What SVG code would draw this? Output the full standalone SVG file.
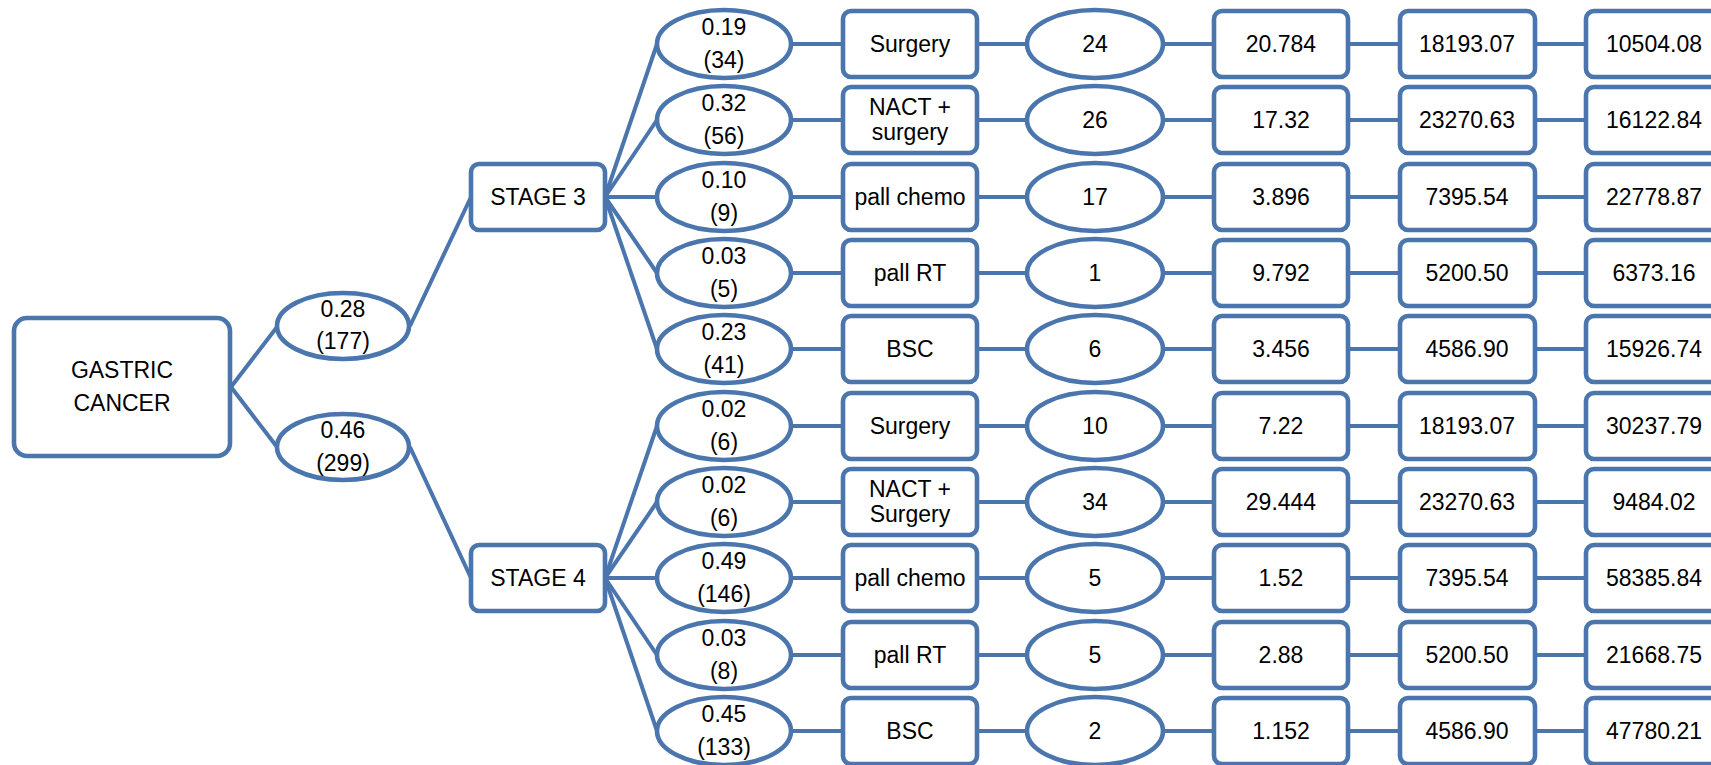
<svg xmlns="http://www.w3.org/2000/svg" width="1711" height="765" viewBox="0 0 1711 765">
<style>
.s{fill:#fff;stroke:#4a75ad;stroke-width:4.6}
.c line{stroke:#4a75ad;stroke-width:4}
text{font-family:"Liberation Sans",Arial,sans-serif;font-size:23px;fill:#000;text-anchor:middle}
</style>
<rect width="1711" height="765" fill="#fff"/>
<g class="c" id="connectors">
<line x1="231" y1="387" x2="277" y2="327"/>
<line x1="231" y1="387" x2="277" y2="447"/>
<line x1="410" y1="326" x2="471" y2="197"/>
<line x1="410" y1="447" x2="471" y2="578"/>
<line x1="605" y1="197" x2="657" y2="44"/>
<line x1="605" y1="197" x2="657" y2="120"/>
<line x1="605" y1="197" x2="657" y2="197"/>
<line x1="605" y1="197" x2="657" y2="273"/>
<line x1="605" y1="197" x2="657" y2="349"/>
<line x1="605" y1="578" x2="657" y2="426"/>
<line x1="605" y1="578" x2="657" y2="502"/>
<line x1="605" y1="578" x2="657" y2="578"/>
<line x1="605" y1="578" x2="657" y2="655"/>
<line x1="605" y1="578" x2="657" y2="731"/>
<g id="rowlines">
<line x1="790" y1="44" x2="1590" y2="44"/>
<line x1="790" y1="120" x2="1590" y2="120"/>
<line x1="790" y1="197" x2="1590" y2="197"/>
<line x1="790" y1="273" x2="1590" y2="273"/>
<line x1="790" y1="349" x2="1590" y2="349"/>
<line x1="790" y1="426" x2="1590" y2="426"/>
<line x1="790" y1="502" x2="1590" y2="502"/>
<line x1="790" y1="578" x2="1590" y2="578"/>
<line x1="790" y1="655" x2="1590" y2="655"/>
<line x1="790" y1="731" x2="1590" y2="731"/>
</g>
</g>
<g id="root"><rect class="s" x="14" y="318" width="216" height="138" rx="13"/><text x="122" y="378">GASTRIC</text><text x="122" y="411">CANCER</text></g>
<g id="p-s3"><ellipse class="s" cx="343" cy="326" rx="66" ry="33"/><text x="343" y="317">0.28</text><text x="343" y="349">(177)</text></g>
<g id="p-s4"><ellipse class="s" cx="343" cy="447" rx="66" ry="33"/><text x="343" y="438">0.46</text><text x="343" y="471">(299)</text></g>
<g id="stage3"><rect class="s" x="471" y="164" width="134" height="66" rx="8"/><text x="538" y="205">STAGE 3</text></g>
<g id="stage4"><rect class="s" x="471" y="545" width="134" height="66" rx="8"/><text x="538" y="586">STAGE 4</text></g>

<g id="row1"><g id="r1-p"><ellipse class="s" cx="724" cy="44" rx="67" ry="34"/><text x="724" y="35">0.19</text><text x="724" y="68">(34)</text></g>
<g id="r1-t"><rect class="s" x="843" y="11" width="134" height="66" rx="8"/><text x="910" y="52">Surgery</text></g>
<g id="r1-n"><ellipse class="s" cx="1095" cy="44" rx="68" ry="34"/><text x="1095" y="52">24</text></g>
<g id="r1-a"><rect class="s" x="1214" y="11" width="134" height="66" rx="8"/><text x="1281" y="52">20.784</text></g>
<g id="r1-b"><rect class="s" x="1400" y="11" width="135" height="66" rx="8"/><text x="1467" y="52">18193.07</text></g>
<g id="r1-c"><rect class="s" x="1586" y="11" width="135" height="66" rx="8"/><text x="1654" y="52">10504.08</text></g></g>

<g id="row2"><g id="r2-p"><ellipse class="s" cx="724" cy="120" rx="67" ry="34"/><text x="724" y="111">0.32</text><text x="724" y="144">(56)</text></g>
<g id="r2-t"><rect class="s" x="843" y="87" width="134" height="66" rx="8"/><text x="910" y="115">NACT +</text><text x="910" y="140">surgery</text></g>
<g id="r2-n"><ellipse class="s" cx="1095" cy="120" rx="68" ry="34"/><text x="1095" y="128">26</text></g>
<g id="r2-a"><rect class="s" x="1214" y="87" width="134" height="66" rx="8"/><text x="1281" y="128">17.32</text></g>
<g id="r2-b"><rect class="s" x="1400" y="87" width="135" height="66" rx="8"/><text x="1467" y="128">23270.63</text></g>
<g id="r2-c"><rect class="s" x="1586" y="87" width="135" height="66" rx="8"/><text x="1654" y="128">16122.84</text></g></g>

<g id="row3"><g id="r3-p"><ellipse class="s" cx="724" cy="197" rx="67" ry="34"/><text x="724" y="188">0.10</text><text x="724" y="221">(9)</text></g>
<g id="r3-t"><rect class="s" x="843" y="164" width="134" height="66" rx="8"/><text x="910" y="205">pall chemo</text></g>
<g id="r3-n"><ellipse class="s" cx="1095" cy="197" rx="68" ry="34"/><text x="1095" y="205">17</text></g>
<g id="r3-a"><rect class="s" x="1214" y="164" width="134" height="66" rx="8"/><text x="1281" y="205">3.896</text></g>
<g id="r3-b"><rect class="s" x="1400" y="164" width="135" height="66" rx="8"/><text x="1467" y="205">7395.54</text></g>
<g id="r3-c"><rect class="s" x="1586" y="164" width="135" height="66" rx="8"/><text x="1654" y="205">22778.87</text></g></g>

<g id="row4"><g id="r4-p"><ellipse class="s" cx="724" cy="273" rx="67" ry="34"/><text x="724" y="264">0.03</text><text x="724" y="297">(5)</text></g>
<g id="r4-t"><rect class="s" x="843" y="240" width="134" height="66" rx="8"/><text x="910" y="281">pall RT</text></g>
<g id="r4-n"><ellipse class="s" cx="1095" cy="273" rx="68" ry="34"/><text x="1095" y="281">1</text></g>
<g id="r4-a"><rect class="s" x="1214" y="240" width="134" height="66" rx="8"/><text x="1281" y="281">9.792</text></g>
<g id="r4-b"><rect class="s" x="1400" y="240" width="135" height="66" rx="8"/><text x="1467" y="281">5200.50</text></g>
<g id="r4-c"><rect class="s" x="1586" y="240" width="135" height="66" rx="8"/><text x="1654" y="281">6373.16</text></g></g>

<g id="row5"><g id="r5-p"><ellipse class="s" cx="724" cy="349" rx="67" ry="34"/><text x="724" y="340">0.23</text><text x="724" y="373">(41)</text></g>
<g id="r5-t"><rect class="s" x="843" y="316" width="134" height="66" rx="8"/><text x="910" y="357">BSC</text></g>
<g id="r5-n"><ellipse class="s" cx="1095" cy="349" rx="68" ry="34"/><text x="1095" y="357">6</text></g>
<g id="r5-a"><rect class="s" x="1214" y="316" width="134" height="66" rx="8"/><text x="1281" y="357">3.456</text></g>
<g id="r5-b"><rect class="s" x="1400" y="316" width="135" height="66" rx="8"/><text x="1467" y="357">4586.90</text></g>
<g id="r5-c"><rect class="s" x="1586" y="316" width="135" height="66" rx="8"/><text x="1654" y="357">15926.74</text></g></g>

<g id="row6"><g id="r6-p"><ellipse class="s" cx="724" cy="426" rx="67" ry="34"/><text x="724" y="417">0.02</text><text x="724" y="450">(6)</text></g>
<g id="r6-t"><rect class="s" x="843" y="393" width="134" height="66" rx="8"/><text x="910" y="434">Surgery</text></g>
<g id="r6-n"><ellipse class="s" cx="1095" cy="426" rx="68" ry="34"/><text x="1095" y="434">10</text></g>
<g id="r6-a"><rect class="s" x="1214" y="393" width="134" height="66" rx="8"/><text x="1281" y="434">7.22</text></g>
<g id="r6-b"><rect class="s" x="1400" y="393" width="135" height="66" rx="8"/><text x="1467" y="434">18193.07</text></g>
<g id="r6-c"><rect class="s" x="1586" y="393" width="135" height="66" rx="8"/><text x="1654" y="434">30237.79</text></g></g>

<g id="row7"><g id="r7-p"><ellipse class="s" cx="724" cy="502" rx="67" ry="34"/><text x="724" y="493">0.02</text><text x="724" y="526">(6)</text></g>
<g id="r7-t"><rect class="s" x="843" y="469" width="134" height="66" rx="8"/><text x="910" y="497">NACT +</text><text x="910" y="522">Surgery</text></g>
<g id="r7-n"><ellipse class="s" cx="1095" cy="502" rx="68" ry="34"/><text x="1095" y="510">34</text></g>
<g id="r7-a"><rect class="s" x="1214" y="469" width="134" height="66" rx="8"/><text x="1281" y="510">29.444</text></g>
<g id="r7-b"><rect class="s" x="1400" y="469" width="135" height="66" rx="8"/><text x="1467" y="510">23270.63</text></g>
<g id="r7-c"><rect class="s" x="1586" y="469" width="135" height="66" rx="8"/><text x="1654" y="510">9484.02</text></g></g>

<g id="row8"><g id="r8-p"><ellipse class="s" cx="724" cy="578" rx="67" ry="34"/><text x="724" y="569">0.49</text><text x="724" y="602">(146)</text></g>
<g id="r8-t"><rect class="s" x="843" y="545" width="134" height="66" rx="8"/><text x="910" y="586">pall chemo</text></g>
<g id="r8-n"><ellipse class="s" cx="1095" cy="578" rx="68" ry="34"/><text x="1095" y="586">5</text></g>
<g id="r8-a"><rect class="s" x="1214" y="545" width="134" height="66" rx="8"/><text x="1281" y="586">1.52</text></g>
<g id="r8-b"><rect class="s" x="1400" y="545" width="135" height="66" rx="8"/><text x="1467" y="586">7395.54</text></g>
<g id="r8-c"><rect class="s" x="1586" y="545" width="135" height="66" rx="8"/><text x="1654" y="586">58385.84</text></g></g>

<g id="row9"><g id="r9-p"><ellipse class="s" cx="724" cy="655" rx="67" ry="34"/><text x="724" y="646">0.03</text><text x="724" y="679">(8)</text></g>
<g id="r9-t"><rect class="s" x="843" y="622" width="134" height="66" rx="8"/><text x="910" y="663">pall RT</text></g>
<g id="r9-n"><ellipse class="s" cx="1095" cy="655" rx="68" ry="34"/><text x="1095" y="663">5</text></g>
<g id="r9-a"><rect class="s" x="1214" y="622" width="134" height="66" rx="8"/><text x="1281" y="663">2.88</text></g>
<g id="r9-b"><rect class="s" x="1400" y="622" width="135" height="66" rx="8"/><text x="1467" y="663">5200.50</text></g>
<g id="r9-c"><rect class="s" x="1586" y="622" width="135" height="66" rx="8"/><text x="1654" y="663">21668.75</text></g></g>

<g id="row10"><g id="r10-p"><ellipse class="s" cx="724" cy="731" rx="67" ry="34"/><text x="724" y="722">0.45</text><text x="724" y="755">(133)</text></g>
<g id="r10-t"><rect class="s" x="843" y="698" width="134" height="66" rx="8"/><text x="910" y="739">BSC</text></g>
<g id="r10-n"><ellipse class="s" cx="1095" cy="731" rx="68" ry="34"/><text x="1095" y="739">2</text></g>
<g id="r10-a"><rect class="s" x="1214" y="698" width="134" height="66" rx="8"/><text x="1281" y="739">1.152</text></g>
<g id="r10-b"><rect class="s" x="1400" y="698" width="135" height="66" rx="8"/><text x="1467" y="739">4586.90</text></g>
<g id="r10-c"><rect class="s" x="1586" y="698" width="135" height="66" rx="8"/><text x="1654" y="739">47780.21</text></g></g>
</svg>
